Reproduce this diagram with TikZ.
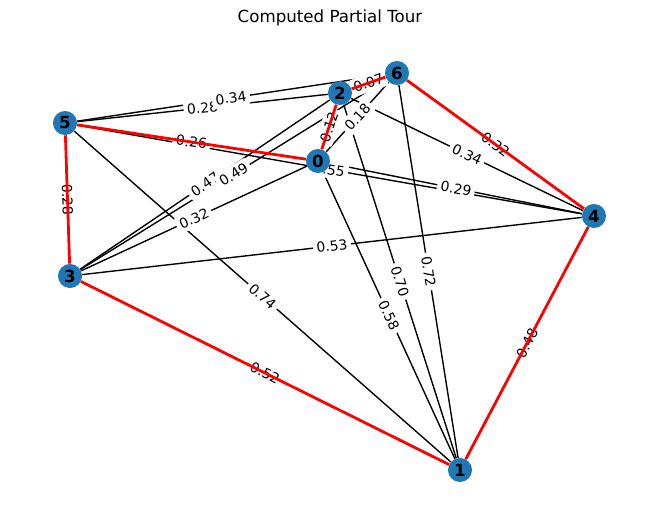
\documentclass[tikz,border=0pt]{standalone}
\usepackage{fontspec}
\setmainfont{DejaVu Sans}
\usetikzlibrary{backgrounds}
\pgfdeclarelayer{edges}
\pgfdeclarelayer{weights}
\pgfdeclarelayer{tour}
\pgfsetlayers{edges,weights,tour,main}
\definecolor{nodeblue}{HTML}{1F78B4}
\tikzset{
  city/.style={circle, fill=nodeblue, minimum size=17.3pt, inner sep=0pt,
    font=\fontsize{12}{14}\selectfont\bfseries},
  road/.style={black, line width=1pt},
  tourroad/.style={red, line width=2pt},
  weight/.style={fill=white, rounded corners=2pt, inner sep=2.5pt, sloped,
    font=\fontsize{10}{12}\selectfont},
}

\begin{document}
\begin{tikzpicture}[x=0.72pt,y=-0.72pt]
   \useasboundingbox (0,0) rectangle (660,522);
   \node[font=\fontsize{12}{14}\selectfont] (title) at (330,18) {Computed Partial Tour};

   % cities
   \node[city] (n0) at (318,161) {0};
   \node[city] (n1) at (460,470) {1};
   \node[city] (n2) at (340,93) {2};
   \node[city] (n3) at (70,276) {3};
   \node[city] (n4) at (594,216) {4};
   \node[city] (n5) at (65,123) {5};
   \node[city] (n6) at (397,73) {6};

   \begin{pgfonlayer}{edges}
     \draw[road] (n5) -- (n2);
     \draw[road] (n5) -- (n6);
     \draw[road] (n5) -- (n4);
     \draw[road] (n5) -- (n1);
     \draw[road] (n3) -- (n2);
     \draw[road] (n3) -- (n6);
     \draw[road] (n3) -- (n0);
     \draw[road] (n3) -- (n4);
     \draw[road] (n0) -- (n6);
     \draw[road] (n0) -- (n4);
     \draw[road] (n0) -- (n1);
     \draw[road] (n2) -- (n4);
     \draw[road] (n2) -- (n1);
     \draw[road] (n6) -- (n1);
   \end{pgfonlayer}

   \begin{pgfonlayer}{weights}
     \path (n5) -- node[weight] {0.28} (n2);
     \path (n5) -- node[weight] {0.34} (n6);
     \path (n5) -- node[weight] {0.55} (n4);
     \path (n5) -- node[weight] {0.74} (n1);
     \path (n3) -- node[weight] {0.47} (n2);
     \path (n3) -- node[weight] {0.49} (n6);
     \path (n3) -- node[weight] {0.32} (n0);
     \path (n3) -- node[weight] {0.53} (n4);
     \path (n0) -- node[weight] {0.18} (n6);
     \path (n0) -- node[weight] {0.29} (n4);
     \path (n0) -- node[weight] {0.58} (n1);
     \path (n2) -- node[weight] {0.34} (n4);
     \path (n2) -- node[weight] {0.70} (n1);
     \path (n6) -- node[weight] {0.72} (n1);
     % tour weights
     \path (n5) -- node[weight] {0.28} (n3);
     \path (n3) -- node[weight] {0.52} (n1);
     \path (n1) -- node[weight] {0.48} (n4);
     \path (n4) -- node[weight] {0.32} (n6);
     \path (n6) -- node[weight] {0.07} (n2);
     \path (n2) -- node[weight] {0.12} (n0);
     \path (n0) -- node[weight] {0.26} (n5);
   \end{pgfonlayer}

   \begin{pgfonlayer}{tour}
     \draw[tourroad] (n5) -- (n3) -- (n1) -- (n4) -- (n6) -- (n2) -- (n0) -- (n5);
   \end{pgfonlayer}
\end{tikzpicture}
\end{document}
